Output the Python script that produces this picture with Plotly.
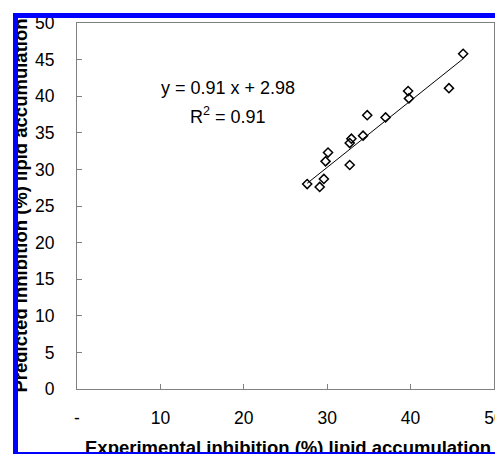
import plotly.graph_objects as go

# Data
experimental = [46.3, 44.6, 39.7, 39.8, 34.8, 37.0, 34.3, 32.9, 32.7, 32.7, 30.1, 29.8, 29.6, 29.1, 27.6]
predicted    = [45.8, 41.1, 40.7, 39.7, 37.4, 37.1, 34.6, 34.2, 33.6, 30.6, 32.3, 31.1, 28.7, 27.6, 28.0]
slope = 0.91
intercept = 2.98
r_squared = 0.91
x_tickvals = [0, 10, 20, 30, 40, 50]
x_ticktext = ["-", "10", "20", "30", "40", "50"]
y_tickvals = [0, 5, 10, 15, 20, 25, 30, 35, 40, 45, 50]

FONT = "Liberation Sans, Arial, sans-serif"

fit_x = [min(experimental), max(experimental)]
fit_y = [slope * v + intercept for v in fit_x]

fig = go.Figure()
fig.add_trace(go.Scatter(x=fit_x, y=fit_y, mode="lines",
                         line=dict(color="black", width=1), showlegend=False))
fig.add_trace(go.Scatter(x=experimental, y=predicted, mode="markers",
                         marker=dict(symbol="diamond-open", size=7, color="black",
                                     line=dict(width=1.5, color="black")),
                         showlegend=False))

L, R, T, B = 77, 1, 23, 65
W, H = 495, 454
pw, ph = W - L - R, H - T - B


def px_x(p):
    return (p - L) / pw


def px_y(p):
    return (H - B - p) / ph


def band(x0, y0, x1, y1):
    return dict(xref="paper", yref="paper", x=px_x(x0), y=px_y(y0),
                xanchor="left", yanchor="top", showarrow=False, text=" ",
                width=x1 - x0, height=y1 - y0, bgcolor="#0000ff",
                borderwidth=0, borderpad=0, font=dict(size=1))


fig.update_layout(
    width=W, height=H,
    margin=dict(l=L, r=R, t=T, b=B),
    paper_bgcolor="white", plot_bgcolor="white",
    font=dict(family=FONT, size=17.5, color="black"),
    xaxis=dict(range=[0, 50], tickvals=x_tickvals, ticktext=x_ticktext,
               showgrid=False, zeroline=False, showline=True, linecolor="#808080",
               linewidth=1, mirror=True, ticks="inside", ticklen=5, tickcolor="#808080",
               ticklabelstandoff=13, tickfont=dict(size=17.5),
               ticklabeloverflow="allow", automargin=False),
    yaxis=dict(range=[0, 50], tickvals=y_tickvals,
               showgrid=False, zeroline=False, showline=True, linecolor="#808080",
               linewidth=1, mirror=True, ticks="inside", ticklen=5, tickcolor="#808080",
               ticklabelstandoff=18, tickfont=dict(size=17.5),
               ticklabeloverflow="allow", automargin=False),
    annotations=[
        dict(x=18.05, y=41.1, xref="x", yref="y", showarrow=False,
             xanchor="center", yanchor="middle",
             text=f"y = {slope} x + {intercept}", font=dict(size=18)),
        dict(x=18.15, y=37.4, xref="x", yref="y", showarrow=False,
             xanchor="center", yanchor="middle",
             text=f"R<sup>2</sup> = {r_squared}", font=dict(size=18)),
        dict(x=px_x(19.6), y=px_y(206), xref="paper", yref="paper", showarrow=False,
             xanchor="center", yanchor="middle",
             textangle=-90, text="<b>Predicted inhibition (%) lipid accumulation</b>",
             font=dict(size=18.5)),
        dict(x=px_x(288), y=px_y(447.5), xref="paper", yref="paper", showarrow=False,
             xanchor="center", yanchor="middle",
             text="<b>Experimental inhibition (%) lipid accumulation</b>",
             font=dict(size=18.5)),
        band(12.7, 12.7, 17.3, 460),
        band(12.7, 12.7, 520, 17.3),
        band(12.7, 451.5, 520, 460),
    ],
)

fig.write_html("out.html", config={"displayModeBar": False},
               post_script="document.body.style.margin='0';document.body.style.overflow='hidden';")
